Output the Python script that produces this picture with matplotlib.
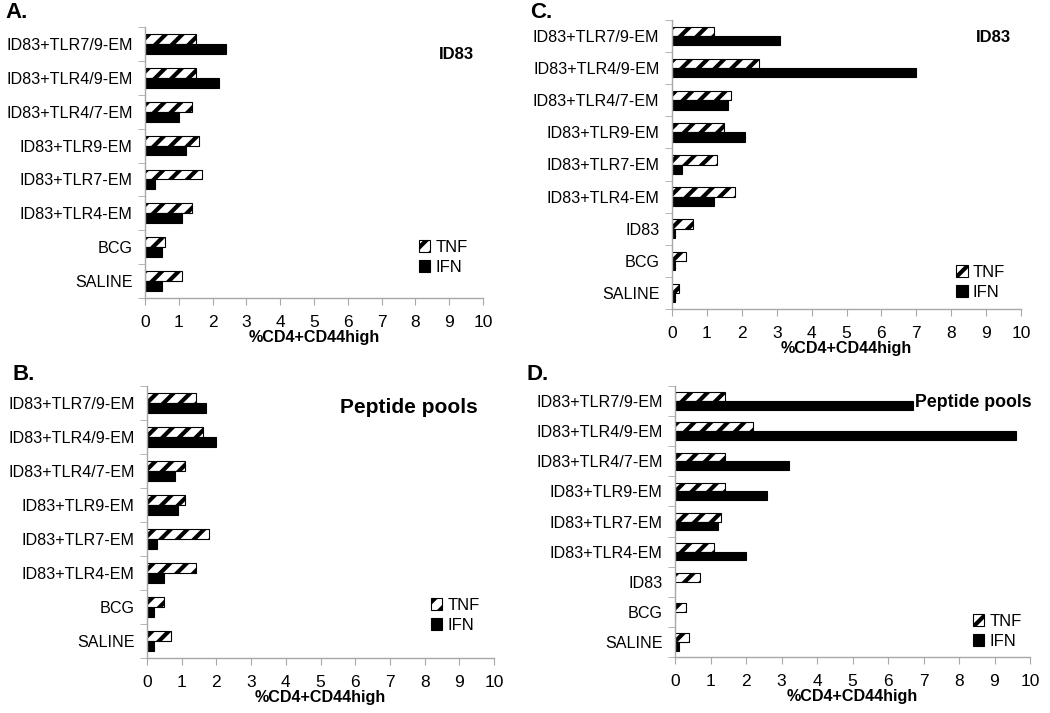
import matplotlib
matplotlib.use("agg")
import matplotlib.pyplot as plt
import numpy as np

plt.rcParams["font.family"] = ["Liberation Sans", "DejaVu Sans"]
plt.rcParams["hatch.linewidth"] = 3.0
plt.rcParams["hatch.color"] = "black"

# categories, top to bottom
cats_ab = ["ID83+TLR7/9-EM", "ID83+TLR4/9-EM", "ID83+TLR4/7-EM", "ID83+TLR9-EM",
           "ID83+TLR7-EM", "ID83+TLR4-EM", "BCG", "SALINE"]
cats_cd = ["ID83+TLR7/9-EM", "ID83+TLR4/9-EM", "ID83+TLR4/7-EM", "ID83+TLR9-EM",
           "ID83+TLR7-EM", "ID83+TLR4-EM", "ID83", "BCG", "SALINE"]

tnf_a = [1.5, 1.5, 1.4, 1.6, 1.7, 1.4, 0.6, 1.1]
ifn_a = [2.4, 2.2, 1.0, 1.2, 0.3, 1.1, 0.5, 0.5]

tnf_b = [1.4, 1.6, 1.1, 1.1, 1.8, 1.4, 0.5, 0.7]
ifn_b = [1.7, 2.0, 0.8, 0.9, 0.3, 0.5, 0.2, 0.2]

tnf_c = [1.2, 2.5, 1.7, 1.5, 1.3, 1.8, 0.6, 0.4, 0.2]
ifn_c = [3.1, 7.0, 1.6, 2.1, 0.3, 1.2, 0.1, 0.1, 0.1]

tnf_d = [1.4, 2.2, 1.4, 1.4, 1.3, 1.1, 0.7, 0.3, 0.4]
ifn_d = [6.7, 9.6, 3.2, 2.6, 1.2, 2.0, 0.0, 0.0, 0.1]

W, H = 1050, 713
fig = plt.figure(figsize=(W / 100, H / 100), dpi=100)
fig.patch.set_facecolor("white")

GRAY = "#a8a8a8"


def px_axes(left, top, right, bottom):
    return fig.add_axes([left / W, 1 - bottom / H, (right - left) / W, (bottom - top) / H])


def panel(ax, cats, tnf, ifn, title, title_xy, title_size, leg_xy, bh=0.29):
    n = len(cats)
    y = np.arange(n)[::-1]
    ax.barh(y + bh / 2, tnf, height=bh, color="white", edgecolor="black",
            linewidth=0.8, hatch="//", label="TNF")
    ax.barh(y - bh / 2, ifn, height=bh, color="black", edgecolor="black",
            linewidth=0.8, label="IFN")
    ax.set_xlim(0, 10)
    ax.set_ylim(-0.5, n - 0.5)
    ax.set_xticks(range(11))
    ax.set_yticks(y)
    ax.set_yticklabels(cats, fontsize=11.6)
    ax.set_yticks(np.arange(n + 1) - 0.5, minor=True)
    ax.tick_params(axis="y", which="major", length=0, pad=9)
    ax.tick_params(axis="y", which="minor", length=5, color=GRAY, direction="out")
    ax.tick_params(axis="x", length=5, color=GRAY, direction="out", labelsize=12.5, pad=7)
    for s in ["top", "right"]:
        ax.spines[s].set_visible(False)
    for s in ["left", "bottom"]:
        ax.spines[s].set_color(GRAY)
        ax.spines[s].set_linewidth(1.0)
    ax.set_xlabel("%CD4+CD44high", fontsize=11.6, fontweight="bold", labelpad=0)
    ax.text(title_xy[0], title_xy[1], title, transform=ax.transAxes, ha="center",
            va="center", fontsize=title_size, fontweight="bold")
    ax.legend(loc="center left", bbox_to_anchor=leg_xy, frameon=False, fontsize=12,
              handlelength=0.7, handleheight=0.7, handletextpad=0.3,
              labelspacing=0.3, borderpad=0)


ax_a = px_axes(145, 27, 483, 298)
panel(ax_a, cats_ab, tnf_a, ifn_a, "ID83", (0.92, 0.9), 12, (0.785, 0.15))

ax_b = px_axes(147, 386, 494, 658)
panel(ax_b, cats_ab, tnf_b, ifn_b, "Peptide pools", (0.755, 0.92), 15, (0.793, 0.158))

ax_c = px_axes(672, 20, 1021, 309)
panel(ax_c, cats_cd, tnf_c, ifn_c, "ID83", (0.92, 0.94), 12, (0.79, 0.093))

ax_d = px_axes(675, 386, 1030, 657)
panel(ax_d, cats_cd, tnf_d, ifn_d, "Peptide pools", (0.84, 0.94), 12.8, (0.815, 0.094))

for lbl, x, y in [("A.", 5, 12), ("B.", 12, 374), ("C.", 530, 12), ("D.", 527, 374)]:
    fig.text(x / W, 1 - y / H, lbl, fontsize=16, fontweight="bold", va="center", ha="left")

fig.savefig("out.png", dpi=100, facecolor="white")
